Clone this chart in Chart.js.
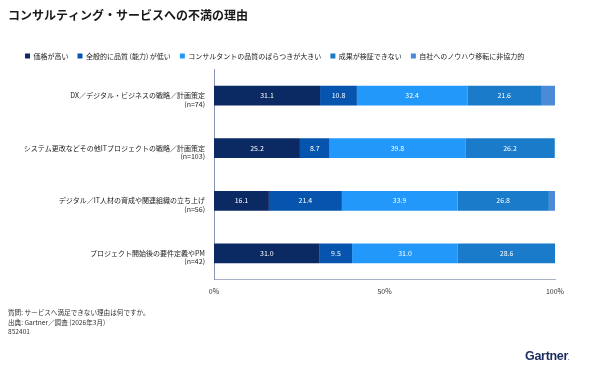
<!DOCTYPE html>
<html>
<head>
<meta charset="utf-8">
<script src="https://cdn.jsdelivr.net/npm/chart.js@4"></script>
<style>
  body { margin: 0; background: #fff; }
  #wrap { position: relative; width: 590px; height: 369px; }
  #c { position: absolute; left: 0; top: 0; }
  .note { position: absolute; left: 8px; font: 6.6px "Noto Sans CJK JP", sans-serif; color: #333; line-height: 9.5px; }
  .logo { position: absolute; left: 525px; top: 349px; font: bold 12.5px "Liberation Sans", sans-serif; color: #1a2b5e; letter-spacing: -0.3px; }
</style>
</head>
<body>
<div id="wrap">
  <canvas id="c" width="590" height="369"></canvas>
  <div class="note" style="top:308px">質問: サービスへ満足できない理由は何ですか。<br>出典: Gartner／調査 (2026年3月)<br>852401</div>
  <div class="logo">Gartner<span style="font-size:5px">.</span></div>
</div>
<script>
const categories = [
  ['DX／デジタル・ビジネスの戦略／計画策定', '(n=74)'],
  ['システム更改などその他ITプロジェクトの戦略／計画策定', '(n=103)'],
  ['デジタル／IT人材の育成や関連組織の立ち上げ', '(n=56)'],
  ['プロジェクト開始後の要件定義やPM', '(n=42)']
];
const seriesNames = ['価格が高い', '全般的に品質 (能力) が低い', 'コンサルタントの品質のばらつきが大きい', '成果が検証できない', '自社へのノウハウ移転に非協力的'];
const highPrice = [31.1, 25.2, 16.1, 31.0];
const lowQuality = [10.8, 8.7, 21.4, 9.5];
const uneven = [32.4, 39.8, 33.9, 31.0];
const unverifiable = [21.6, 26.2, 26.8, 28.6];
const noTransfer = [4.1, 0.1, 1.8, 0];
const xTicks = [0, 50, 100];

const colors = ['#0b2a64', '#0654ae', '#2398fb', '#1a7bcb', '#4b8ad6'];
const values = [highPrice, lowQuality, uneven, unverifiable, noTransfer];
const jp = '"Noto Sans CJK JP", sans-serif';

const segLabels = {
  id: 'segLabels',
  afterDatasetsDraw(chart) {
    const ctx = chart.ctx;
    ctx.save();
    ctx.font = '7px ' + jp;
    ctx.fillStyle = '#fff';
    ctx.textAlign = 'center';
    ctx.textBaseline = 'middle';
    chart.data.datasets.forEach((ds, i) => {
      if (i > 3) return;
      chart.getDatasetMeta(i).data.forEach((bar, j) => {
        const v = ds.data[j];
        ctx.fillText(v.toFixed(1), (bar.x + bar.base) / 2, bar.y);
      });
    });
    ctx.restore();
  }
};

// nudge the legend right so it starts where the reference one does
const legendShift = {
  id: 'legendShift',
  afterLayout(chart) {
    chart.legend.left += 8;
    chart.legend.right += 8;
  }
};

new Chart(document.getElementById('c'), {
  type: 'bar',
  data: {
    labels: categories,
    datasets: seriesNames.map((name, i) => ({
      label: name,
      data: values[i],
      backgroundColor: colors[i],
      barPercentage: 0.75,
      categoryPercentage: 0.5
    }))
  },
  options: {
    indexAxis: 'y',
    responsive: false,
    animation: false,
    layout: { padding: { left: 8, right: 35, top: 6, bottom: 65 } },
    plugins: {
      title: {
        display: true,
        text: 'コンサルティング・サービスへの不満の理由',
        align: 'start',
        color: '#1a1a1a',
        font: { family: jp, size: 12, weight: 'bold' },
        padding: { top: 2, bottom: 21 }
      },
      legend: {
        align: 'start',
        labels: {
          color: '#222',
          font: { family: jp, size: 7 },
          boxWidth: 5,
          boxHeight: 5,
          padding: 9
        }
      },
      tooltip: { enabled: false }
    },
    scales: {
      x: {
        stacked: true,
        min: 0,
        max: 100,
        afterBuildTicks(scale) { scale.ticks = xTicks.map(v => ({ value: v })); },
        grid: { display: false, drawTicks: false },
        border: { color: '#a9b1c9', width: 1 },
        ticks: {
          color: '#333',
          font: { family: jp, size: 7 },
          padding: 8,
          callback: v => v + '%'
        }
      },
      y: {
        stacked: true,
        grid: { display: false },
        border: { color: '#8c95b3', width: 1 },
        afterFit(scale) { scale.width = 206; },
        ticks: {
          color: '#222',
          font: { family: jp, size: 7 },
          padding: 1,
          labelOffset: 4
        }
      }
    }
  },
  plugins: [segLabels, legendShift]
});
</script>
</body>
</html>
